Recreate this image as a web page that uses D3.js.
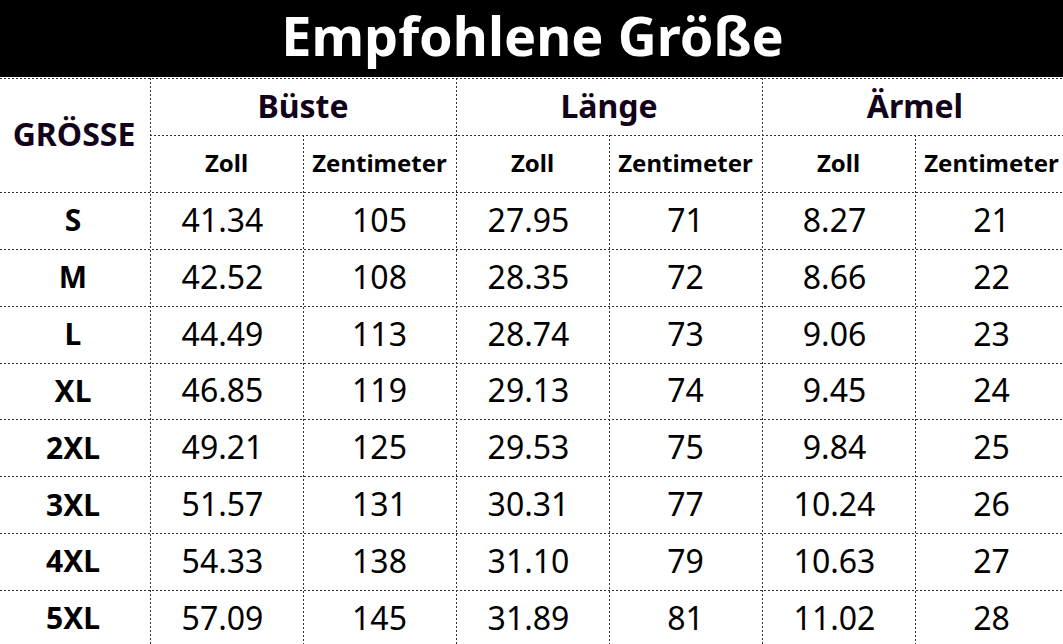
<!DOCTYPE html>
<html>
<head>
<meta charset="utf-8">
<script src="https://cdn.jsdelivr.net/npm/d3@7"></script>
<style>
  html, body { margin: 0; padding: 0; background: #fff; }
  svg { display: block; }
</style>
</head>
<body>
<svg id="chart"></svg>
<script>
// Size chart table - Empfohlene Größe

const width = 1063;
const height = 644;

// Data
const title = "Empfohlene Größe";
const sizeHeader = "GRÖSSE";
const groups = ["Büste", "Länge", "Ärmel"];
const units = ["Zoll", "Zentimeter"];
const sizes = ["S", "M", "L", "XL", "2XL", "3XL", "4XL", "5XL"];
const busteZoll = ["41.34", "42.52", "44.49", "46.85", "49.21", "51.57", "54.33", "57.09"];
const busteCm = ["105", "108", "113", "119", "125", "131", "138", "145"];
const laengeZoll = ["27.95", "28.35", "28.74", "29.13", "29.53", "30.31", "31.10", "31.89"];
const laengeCm = ["71", "72", "73", "74", "75", "77", "79", "81"];
const aermelZoll = ["8.27", "8.66", "9.06", "9.45", "9.84", "10.24", "10.63", "11.02"];
const aermelCm = ["21", "22", "23", "24", "25", "26", "27", "28"];

const columns = [busteZoll, busteCm, laengeZoll, laengeCm, aermelZoll, aermelCm];

// Layout
const titleH = 78;
const rowH = 56.9;
const firstColW = 150;
const colW = 153;

const svg = d3.select("#chart")
    .attr("width", width)
    .attr("height", height);

// scales
const x = d3.scaleBand()
    .domain(d3.range(columns.length))
    .range([firstColW, firstColW + colW * columns.length])
    .padding(0);

const xGroup = d3.scaleBand()
    .domain(groups)
    .range([firstColW, firstColW + colW * columns.length]);

const y = d3.scaleBand()
    .domain(sizes)
    .range([titleH + rowH * 2, titleH + rowH * (2 + sizes.length)]);

const bottom = height;
const font = "'Noto Sans', 'Open Sans', sans-serif";
const headColor = "#12031a";

// Title bar
svg.append("rect")
    .attr("x", 0).attr("y", 0)
    .attr("width", width).attr("height", titleH - 1)
    .attr("fill", "#000");

svg.append("text")
    .attr("x", width / 2 + 1)
    .attr("y", 56)
    .attr("text-anchor", "middle")
    .style("font-family", font)
    .style("font-weight", 700)
    .style("font-size", "54px")
    .style("fill", "#fff")
    .text(title);

// Grid lines (dotted)
const grid = svg.append("g")
    .attr("fill", "none")
    .attr("stroke", "#333")
    .attr("stroke-width", 1)
    .attr("stroke-dasharray", "2,2")
    .attr("shape-rendering", "crispEdges");

const snap = v => Math.round(v) + 0.5;

// top border and horizontal row lines
grid.append("line")
    .attr("x1", 0).attr("x2", width)
    .attr("y1", snap(titleH)).attr("y2", snap(titleH));

grid.append("line")
    .attr("x1", firstColW).attr("x2", width)
    .attr("y1", snap(titleH + rowH)).attr("y2", snap(titleH + rowH));

grid.selectAll(".row-line")
    .data(sizes)
    .enter()
    .append("line")
    .attr("class", "row-line")
    .attr("x1", 0).attr("x2", width)
    .attr("y1", d => snap(y(d)))
    .attr("y2", d => snap(y(d)));

// vertical lines
grid.append("line")
    .attr("x1", snap(firstColW)).attr("x2", snap(firstColW))
    .attr("y1", titleH).attr("y2", bottom);

grid.selectAll(".col-line")
    .data(d3.range(1, columns.length))
    .enter()
    .append("line")
    .attr("class", "col-line")
    .attr("x1", d => snap(x(d)))
    .attr("x2", d => snap(x(d)))
    .attr("y1", d => d % 2 === 0 ? titleH : titleH + rowH)
    .attr("y2", bottom);

// Header: size column
svg.append("text")
    .attr("x", 74)
    .attr("y", titleH + rowH)
    .attr("dy", "0.35em")
    .attr("text-anchor", "middle")
    .style("font-family", font)
    .style("font-weight", 700)
    .style("font-size", "32px")
    .style("fill", headColor)
    .text(sizeHeader);

// Header: groups
svg.selectAll(".group-label")
    .data(groups)
    .enter()
    .append("text")
    .attr("class", "group-label")
    .attr("x", d => xGroup(d) + xGroup.bandwidth() / 2)
    .attr("y", titleH + rowH / 2)
    .attr("dy", "0.35em")
    .attr("text-anchor", "middle")
    .style("font-family", font)
    .style("font-weight", 700)
    .style("font-size", "32px")
    .style("fill", headColor)
    .text(d => d);

// Header: units
svg.selectAll(".unit-label")
    .data(d3.range(columns.length))
    .enter()
    .append("text")
    .attr("class", "unit-label")
    .attr("x", d => x(d) + x.bandwidth() / 2)
    .attr("y", titleH + rowH * 1.5)
    .attr("dy", "0.35em")
    .attr("text-anchor", "middle")
    .style("font-family", font)
    .style("font-weight", 700)
    .style("font-size", "24px")
    .style("fill", "#000")
    .text(d => units[d % 2]);

// Size labels
svg.selectAll(".size-label")
    .data(sizes)
    .enter()
    .append("text")
    .attr("class", "size-label")
    .attr("x", 73)
    .attr("y", d => y(d) + y.bandwidth() / 2)
    .attr("dy", "0.36em")
    .attr("text-anchor", "middle")
    .style("font-family", font)
    .style("font-weight", 700)
    .style("font-size", "30px")
    .style("fill", "#000")
    .text(d => d);

// Values
columns.forEach((col, ci) => {
    svg.selectAll(".val-" + ci)
        .data(col)
        .enter()
        .append("text")
        .attr("class", "val-" + ci)
        .attr("x", x(ci) + x.bandwidth() / 2 - (ci % 2 === 0 ? 4 : 0))
        .attr("y", (d, i) => y(sizes[i]) + y.bandwidth() / 2)
        .attr("dy", "0.36em")
        .attr("text-anchor", "middle")
        .style("font-family", font)
        .style("font-size", "32px")
        .style("letter-spacing", "0px")
        .style("fill", "#000")
        .text(d => d);
});
</script>
</body>
</html>
